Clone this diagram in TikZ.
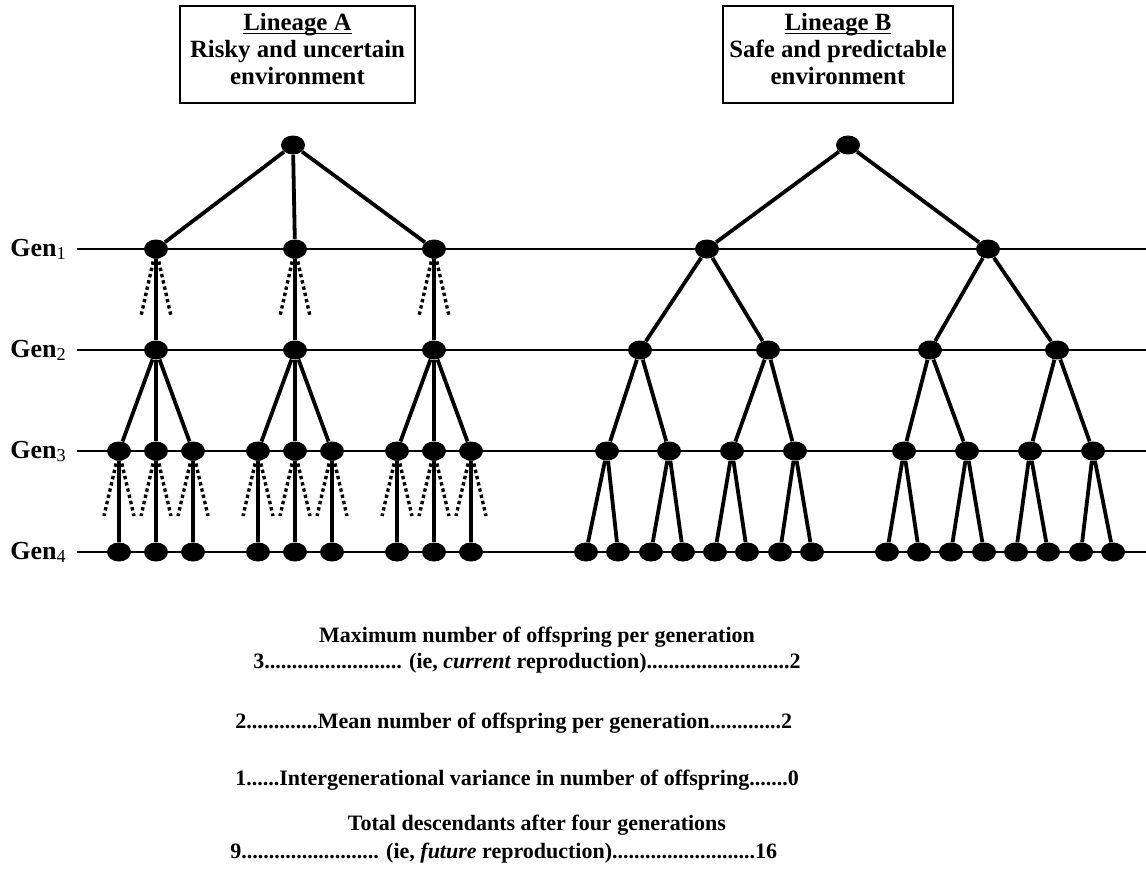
\documentclass[tikz,border=0pt]{standalone}
\usepackage{fontspec}
\setmainfont{Liberation Serif}
\usetikzlibrary{shapes.geometric}

\tikzset{
  ind/.style={ellipse, fill=black, minimum width=12pt, minimum height=9.5pt, inner sep=0pt},
  kin/.style={line width=1.9pt},
  lost/.style={line width=1.7pt, dash pattern=on 1.7pt off 1.5pt},
  genline/.style={line width=0.8pt},
  genlabel/.style={font=\fontsize{13}{15}\selectfont\bfseries, inner xsep=5pt, inner ysep=0pt},
  lineagebox/.style={draw, line width=0.8pt, align=center, font=\fontsize{12.4}{13.5}\selectfont\bfseries, minimum height=46.5pt},
  caption/.style={font=\fontsize{11}{13}\selectfont\bfseries, inner sep=0pt},
}
\newcommand{\lineagetitle}[1]{\underline{\raisebox{0pt}[\height][0pt]{#1}}}

\begin{document}
\begin{tikzpicture}[x=0.5pt, y=-0.5pt]
  \useasboundingbox (0,0) rectangle (1146,868);

  % generation lines
  \foreach \g/\y in {1/249,2/350,3/451,4/552}{
    \node[genlabel, anchor=base west] (gen\g) at (0,\y+7) {Gen\textsubscript{\mdseries\g}};
    \coordinate (end\g) at (1146,\y);
    \draw[genline] (gen\g.east |- end\g) -- (end\g);
  }

  % lineage boxes
  \node[lineagebox, minimum width=117.5pt] (boxA) at (297.5,54.5) {\lineagetitle{Lineage A}\\Risky and uncertain\\environment\rule[-6pt]{0pt}{6pt}};
  \node[lineagebox, minimum width=112pt] (boxB) at (838,54.5) {\lineagetitle{Lineage B}\\Safe and predictable\\environment\rule[-6pt]{0pt}{6pt}};

  % Lineage A: three offspring, one survives
  \node[ind] (A0) at (293,145) {};
  \foreach \i/\x in {1/156,2/295,3/434}{
    \node[ind] (A1-\i) at (\x,249) {};
    \node[ind] (A2-\i) at (\x,350) {};
    \foreach \j in {1,2,3}{
      \node[ind] (A3-\i-\j) at (\x+37*\j-74,451) {};
      \node[ind] (A4-\i-\j) at (\x+37*\j-74,552) {};
    }
  }
  \foreach \i in {1,2,3}{
    \draw[kin] (A0) -- (A1-\i);
    \draw[kin] (A1-\i) -- (A2-\i);
    \draw[lost] (A1-\i.center) -- ++(-15,67);
    \draw[lost] (A1-\i.center) -- ++(15,67);
    \foreach \j in {1,2,3}{
      \draw[kin] (A2-\i) -- (A3-\i-\j) -- (A4-\i-\j);
      \draw[lost] (A3-\i-\j.center) -- ++(-15,65);
      \draw[lost] (A3-\i-\j.center) -- ++(15,65);
    }
  }

  % Lineage B: two offspring every time
  \node[ind] (B0) at (848,145) {};
  \foreach \i/\x in {1/707,2/988}
    \node[ind] (B1-\i) at (\x,249) {};
  \foreach \i/\x in {1/640,2/768,3/930,4/1057}
    \node[ind] (B2-\i) at (\x,350) {};
  \foreach \i/\x in {1/607,2/669,3/732,4/795,5/904,6/967,7/1030,8/1093}
    \node[ind] (B3-\i) at (\x,451) {};
  \foreach \i/\x in {1/586,2/618,3/651,4/683,5/715,6/747,7/780,8/812,9/887,10/919,11/951,12/984,13/1016,14/1048,15/1081,16/1113}
    \node[ind] (B4-\i) at (\x,552) {};
  \draw[kin] (B1-1) -- (B0) -- (B1-2);
  \foreach \g/\n in {1/2,2/4,3/8}{
    \pgfmathtruncatemacro\h{\g+1}
    \foreach \p in {1,...,\n}{
      \pgfmathtruncatemacro\l{2*\p-1}
      \pgfmathtruncatemacro\r{2*\p}
      \draw[kin] (B\h-\l) -- (B\g-\p) -- (B\h-\r);
    }
  }

  % summary
  \node[caption, anchor=base] (maxhead) at (537,642) {Maximum number of offspring per generation};
  \node[caption, anchor=base west] (maxrow) at (253,668) {3......................... (ie, \textit{current} reproduction)..........................2};
  \node[caption, anchor=base west] (meanrow) at (235,728) {2.............Mean number of offspring per generation.............2};
  \node[caption, anchor=base west] (varrow) at (235,785) {1......Intergenerational variance in number of offspring.......0};
  \node[caption, anchor=base] (tothead) at (537,830) {Total descendants after four generations};
  \node[caption, anchor=base west] (totrow) at (230,858) {9......................... (ie, \textit{future} reproduction)..........................16};
\end{tikzpicture}
\end{document}
